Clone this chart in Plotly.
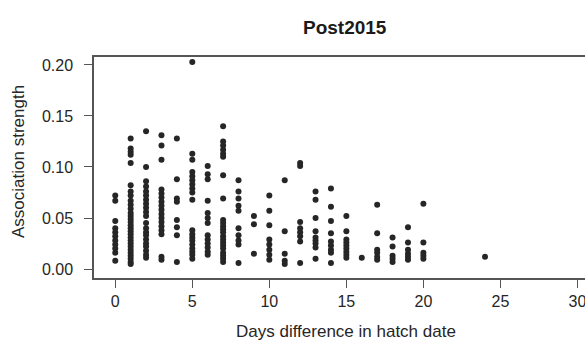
import plotly.graph_objects as go

# Days difference in hatch date (x) and association strengths observed at each day
days = [0, 1, 2, 3, 4, 5, 6, 7, 8, 9, 10, 11, 12, 13, 14, 15, 16, 17, 18, 19, 20, 24]
strength = [
    [0.072, 0.067, 0.047, 0.040, 0.036, 0.032, 0.028, 0.024, 0.020, 0.016, 0.008],
    [0.128, 0.118, 0.115, 0.112, 0.104, 0.082, 0.076, 0.072, 0.067, 0.063, 0.059, 0.055,
     0.052, 0.049, 0.046, 0.043, 0.040, 0.037, 0.034, 0.031, 0.028, 0.025, 0.022, 0.019,
     0.016, 0.013, 0.010, 0.007, 0.005],
    [0.135, 0.100, 0.086, 0.081, 0.076, 0.072, 0.068, 0.064, 0.060, 0.056, 0.052, 0.045,
     0.040, 0.036, 0.033, 0.029, 0.025, 0.022, 0.018, 0.014, 0.011],
    [0.131, 0.121, 0.107, 0.078, 0.074, 0.070, 0.066, 0.062, 0.058, 0.054, 0.050, 0.046,
     0.042, 0.038, 0.034, 0.012, 0.009],
    [0.128, 0.088, 0.069, 0.066, 0.048, 0.041, 0.033, 0.007],
    [0.203, 0.113, 0.107, 0.095, 0.091, 0.087, 0.083, 0.079, 0.075, 0.068, 0.038, 0.034,
     0.031, 0.028, 0.024, 0.020, 0.017, 0.014, 0.010],
    [0.101, 0.093, 0.088, 0.067, 0.055, 0.050, 0.045, 0.033, 0.029, 0.025, 0.021, 0.017, 0.014],
    [0.140, 0.125, 0.121, 0.117, 0.113, 0.110, 0.092, 0.069, 0.048, 0.045, 0.042, 0.039,
     0.036, 0.032, 0.029, 0.026, 0.023, 0.020, 0.016, 0.013, 0.010, 0.007],
    [0.087, 0.076, 0.069, 0.062, 0.057, 0.040, 0.033, 0.028, 0.024, 0.006],
    [0.052, 0.044, 0.015],
    [0.072, 0.057, 0.043, 0.029, 0.024, 0.019, 0.014, 0.009],
    [0.087, 0.037, 0.015, 0.008, 0.005],
    [0.104, 0.101, 0.046, 0.040, 0.036, 0.032, 0.027, 0.006],
    [0.076, 0.068, 0.050, 0.037, 0.031, 0.028, 0.025, 0.021, 0.010],
    [0.079, 0.061, 0.047, 0.035, 0.027, 0.023, 0.019, 0.016, 0.006],
    [0.052, 0.037, 0.029, 0.026, 0.023, 0.020, 0.017, 0.014, 0.011],
    [0.011],
    [0.063, 0.035, 0.019, 0.016, 0.012, 0.009],
    [0.031, 0.022, 0.013, 0.010, 0.007],
    [0.041, 0.026, 0.019, 0.015, 0.012, 0.009],
    [0.064, 0.026, 0.016, 0.013, 0.010],
    [0.012],
]
x_ticks = [0, 5, 10, 15, 20, 25, 30]
y_ticks = [0.00, 0.05, 0.10, 0.15, 0.20]
title_text = "Post2015"
x_title = "Days difference in hatch date"
y_title = "Association strength"

xs, ys = [], []
for d, vals in zip(days, strength):
    for v in vals:
        xs.append(d)
        ys.append(v)

FONT = "Liberation Sans, Arial, sans-serif"
TXT = "#262626"
LINE = "#555555"

fig = go.Figure()
fig.add_trace(go.Scatter(
    x=xs, y=ys, mode="markers",
    marker=dict(size=6, color="#262626", line=dict(width=0)),
    showlegend=False, hoverinfo="x+y",
))

L, T, B = 94, 57, 64
W, H = 585, 342
plot_w = W - L
plot_h = H - T - B

fig.update_layout(
    width=W, height=H,
    margin=dict(l=L, r=0, t=T, b=B, pad=0),
    paper_bgcolor="white", plot_bgcolor="white",
    font=dict(family=FONT, color=TXT, size=16),
)
fig.update_xaxes(
    range=[-1.38, 30.49], tickvals=x_ticks, ticktext=[str(t) for t in x_ticks],
    showgrid=False, zeroline=False,
    showline=True, linecolor=LINE, linewidth=1.5, mirror=True,
    ticks="outside", ticklen=8, tickwidth=1.2, tickcolor=LINE,
    tickfont=dict(size=16, color=TXT, family=FONT),
    ticklabeloverflow="allow",
)
fig.update_yaxes(
    range=[-0.0088, 0.2078], tickvals=y_ticks, ticktext=[f"{t:.2f}" for t in y_ticks],
    showgrid=False, zeroline=False,
    showline=True, linecolor=LINE, linewidth=1.5, mirror=False,
    ticks="outside", ticklen=8, tickwidth=1.2, tickcolor=LINE,
    tickfont=dict(size=16, color=TXT, family=FONT),
    ticklabelstandoff=8,
)

def px_x(px):
    return (px - L) / plot_w

def px_y(py):
    return (H - B - py) / plot_h

fig.add_annotation(text=f"<b>{title_text}</b>", xref="paper", yref="paper",
                   x=px_x(345), y=px_y(27), xanchor="center", yanchor="middle",
                   showarrow=False, font=dict(size=19, color="#1a1a1a", family=FONT))
fig.add_annotation(text=x_title, xref="paper", yref="paper",
                   x=px_x(346), y=px_y(331), xanchor="center", yanchor="middle",
                   showarrow=False, font=dict(size=17, color=TXT, family=FONT))
fig.add_annotation(text=y_title, xref="paper", yref="paper", textangle=-90,
                   x=px_x(18), y=px_y(162), xanchor="center", yanchor="middle",
                   showarrow=False, font=dict(size=17, color=TXT, family=FONT))

fig.write_html("out.html")
